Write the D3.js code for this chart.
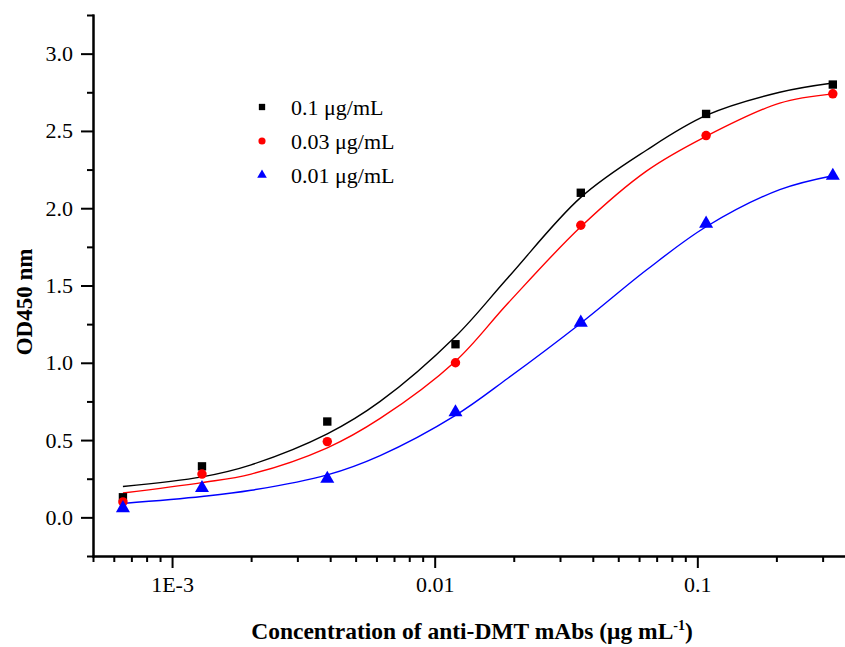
<!DOCTYPE html>
<html lang="en">
<head>
    <meta charset="UTF-8">
    <title>OD450 vs anti-DMT mAbs</title>
    <script src="https://d3js.org/d3.v7.min.js"></script>
    <style>
        html, body { margin: 0; padding: 0; overflow: hidden; background: #fff; }
        svg text { font-family: "Liberation Serif", "Times New Roman", serif; fill: #000; }
        .axis path, .axis line { stroke: #000; stroke-width: 2; }
        .axis text { font-size: 22px; }
    </style>
</head>
<body>
    <svg id="chart" width="845" height="647"></svg>
    <script>
        // measured points (concentration in ug/mL)
        const conc = [0.00065, 0.0013, 0.0039, 0.012, 0.036, 0.108, 0.328];
        const od01 = [0.13, 0.33, 0.62, 1.12, 2.10, 2.61, 2.80];
        const od003 = [0.10, 0.28, 0.49, 1.00, 1.89, 2.47, 2.74];
        const od001 = [0.06, 0.19, 0.25, 0.68, 1.26, 1.90, 2.21];

        // fitted curves
        const fitConc = [0.00065, 0.0013, 0.002, 0.0039, 0.0062, 0.012, 0.019, 0.036, 0.064, 0.108, 0.206, 0.328];
        const fit01 = [0.20, 0.262, 0.34, 0.54, 0.75, 1.17, 1.55, 2.07, 2.375, 2.60, 2.75, 2.81];
        const fit003 = [0.158, 0.225, 0.28, 0.45, 0.64, 1.01, 1.385, 1.88, 2.24, 2.465, 2.68, 2.74];
        const fit001 = [0.09, 0.135, 0.175, 0.275, 0.40, 0.66, 0.90, 1.256, 1.60, 1.88, 2.12, 2.21];

        const seriesNames = ["0.1 μg/mL", "0.03 μg/mL", "0.01 μg/mL"];
        const seriesColors = ["#000000", "#ff0000", "#0000ff"];
        const seriesShapes = [d3.symbolSquare, d3.symbolCircle, d3.symbolTriangle];
        const pointSets = [od01, od003, od001];
        const fitSets = [fit01, fit003, fit001];

        const yMajor = [0, 0.5, 1.0, 1.5, 2.0, 2.5, 3.0];
        const yMinor = [-0.25, 0.25, 0.75, 1.25, 1.75, 2.25, 2.75, 3.25];
        const xMajor = [0.001, 0.01, 0.1];
        const xMajorLabels = ["1E-3", "0.01", "0.1"];
        const xMinor = [0.0005, 0.0006, 0.0007, 0.0008, 0.0009,
                        0.002, 0.003, 0.004, 0.005, 0.006, 0.007, 0.008, 0.009,
                        0.02, 0.03, 0.04, 0.05, 0.06, 0.07, 0.08, 0.09,
                        0.2, 0.3];

        const svg = d3.select("#chart");
        const x = d3.scaleLog().domain([0.0005, 0.365]).range([93, 845]);
        const y = d3.scaleLinear().domain([-0.25, 3.25]).range([556, 15]);

        // axes: minor ticks first, then major with labels
        svg.append("g").attr("class", "axis")
            .attr("transform", "translate(0,556)")
            .call(d3.axisBottom(x).tickValues(xMinor).tickSize(6).tickFormat("").tickSizeOuter(0));
        svg.append("g").attr("class", "axis")
            .attr("transform", "translate(0,556)")
            .call(d3.axisBottom(x).tickValues(xMajor).tickSize(12).tickSizeOuter(0)
                .tickFormat((d, i) => xMajorLabels[i]))
            .selectAll("text").attr("dy", "0.95em");

        svg.append("g").attr("class", "axis")
            .attr("transform", "translate(93,0)")
            .call(d3.axisLeft(y).tickValues(yMinor).tickSize(6).tickFormat("").tickSizeOuter(0));
        svg.append("g").attr("class", "axis")
            .attr("transform", "translate(93,0)")
            .call(d3.axisLeft(y).tickValues(yMajor).tickSize(12).tickSizeOuter(0).tickFormat(d3.format(".1f")))
            .selectAll("text").attr("x", -20);

        svg.selectAll(".domain").attr("stroke-linecap", "square");

        // axis titles
        svg.append("text")
            .attr("transform", "translate(32,302) rotate(-90)")
            .attr("text-anchor", "middle")
            .style("font-size", "23px").style("font-weight", "bold")
            .text("OD450 nm");

        const xt = svg.append("text")
            .attr("x", 472).attr("y", 639)
            .attr("text-anchor", "middle")
            .style("font-size", "23.5px").style("font-weight", "bold");
        xt.append("tspan").text("Concentration of anti-DMT mAbs (μg mL");
        xt.append("tspan").attr("dy", -9).style("font-size", "14px").text("-1");
        xt.append("tspan").attr("dy", 9).text(")");

        // fitted curves
        const line = d3.line()
            .x(d => x(d[0]))
            .y(d => y(d[1]))
            .curve(d3.curveCatmullRom.alpha(0.5));

        fitSets.forEach((vals, i) => {
            svg.append("path")
                .datum(fitConc.map((c, j) => [c, vals[j]]))
                .attr("fill", "none")
                .attr("stroke", seriesColors[i])
                .attr("stroke-width", 1.4)
                .attr("d", line);
        });

        // points
        const symSize = [70, 70, 85];
        pointSets.forEach((vals, i) => {
            svg.append("g").selectAll("path")
                .data(conc.map((c, j) => [c, vals[j]]))
                .join("path")
                .attr("transform", d => `translate(${x(d[0])},${y(d[1])})`)
                .attr("d", d3.symbol().type(seriesShapes[i]).size(symSize[i]))
                .attr("fill", seriesColors[i]);
        });

        // legend
        const legend = svg.append("g").attr("transform", "translate(262,107)");
        seriesNames.forEach((name, i) => {
            const row = legend.append("g").attr("transform", `translate(0,${i * 34})`);
            row.append("path")
                .attr("d", d3.symbol().type(seriesShapes[i]).size(40))
                .attr("fill", seriesColors[i]);
            row.append("text")
                .attr("x", 29).attr("y", 0).attr("dy", "0.35em")
                .style("font-size", "22px")
                .text(name);
        });
    </script>
</body>
</html>
